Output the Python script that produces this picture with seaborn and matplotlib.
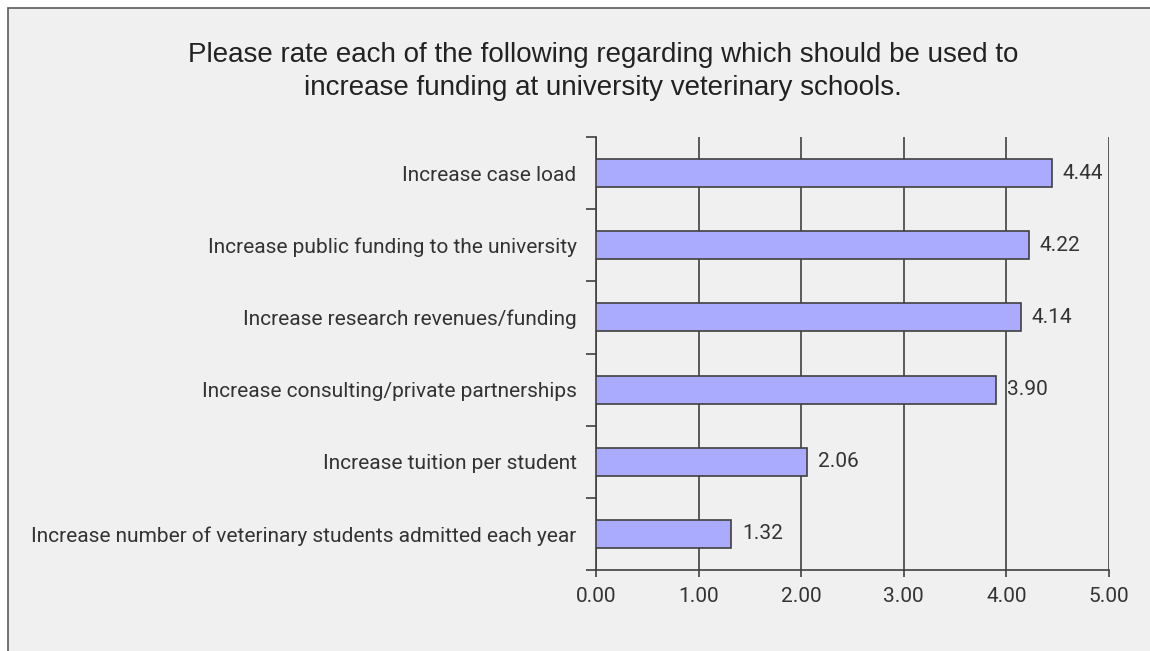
import matplotlib
matplotlib.use("Agg")
import matplotlib.pyplot as plt
from matplotlib.patches import Rectangle
from matplotlib.ticker import FixedLocator
import seaborn as sns
import pandas as pd

categories = [
    "Increase case load",
    "Increase public funding to the university",
    "Increase research revenues/funding",
    "Increase consulting/private partnerships",
    "Increase tuition per student",
    "Increase number of veterinary students admitted each year",
]
ratings = [4.44, 4.22, 4.14, 3.90, 2.06, 1.32]
x_ticks = [0, 1, 2, 3, 4, 5]
x_tick_labels = ["0.00", "1.00", "2.00", "3.00", "4.00", "5.00"]
title_lines = [
    "Please rate each of the following regarding which should be used to",
    "increase funding at university veterinary schools.",
]

df = pd.DataFrame({"item": categories, "rating": ratings})

sns.set_theme(style="white")
plt.rcParams["font.family"] = ["Roboto", "DejaVu Sans"]

W, H = 1150, 651
ink = "#404040"
text_col = "#333333"
fig = plt.figure(figsize=(W / 100, H / 100), dpi=100, facecolor="white")

# panel background with a thin frame on the top and left
fig.patches.append(Rectangle((8 / W, -0.1), 1.2, 1.1 - 8 / H,
                             transform=fig.transFigure, facecolor="#f0f0f0",
                             edgecolor="#5a5a5a", linewidth=1.2, zorder=-10))

left, right, top, bottom = 596, 1109, 137, 570
ax = fig.add_axes([left / W, 1 - bottom / H, (right - left) / W, (bottom - top) / H])
ax.set_facecolor("none")

sns.barplot(data=df, x="rating", y="item", orient="h", ax=ax,
            color="#aaaaff", saturation=1, width=0.39,
            edgecolor=ink, linewidth=1.2, zorder=3)

ax.set_xlim(0, 5)
ax.set_ylim(len(categories) - 0.5, -0.5)
ax.set_xticks(x_ticks)
ax.set_xticklabels(x_tick_labels)
ax.set_xlabel("")
ax.set_ylabel("")

ax.grid(axis="x", color=ink, linewidth=1.2, zorder=0)
ax.set_axisbelow(True)

for side in ("top", "right"):
    ax.spines[side].set_visible(False)
for side in ("left", "bottom"):
    ax.spines[side].set_color(ink)
    ax.spines[side].set_linewidth(1.2)

# category boundaries carry the outward y ticks
ax.yaxis.set_minor_locator(FixedLocator([i - 0.5 for i in range(len(categories) + 1)]))
ax.tick_params(axis="y", which="major", length=0, pad=14, labelsize=15, labelcolor=text_col)
ax.tick_params(axis="y", which="minor", length=7, width=1.2, color=ink, left=True)
ax.tick_params(axis="x", which="major", length=5, width=1.2, color=ink, bottom=True,
               pad=7, labelsize=15, labelcolor=text_col)

for i, v in enumerate(ratings):
    ax.text(v + 0.105, i, f"{v:.2f}", va="center", ha="left",
            fontsize=15, color=text_col)

for line, base in zip(title_lines, (62, 95)):
    fig.text(603 / W, 1 - base / H, line, ha="center", va="baseline",
             fontsize=20, color="#222222",
             family=["Liberation Sans", "DejaVu Sans"])

fig.savefig("out.png", dpi=100, facecolor=fig.get_facecolor())
